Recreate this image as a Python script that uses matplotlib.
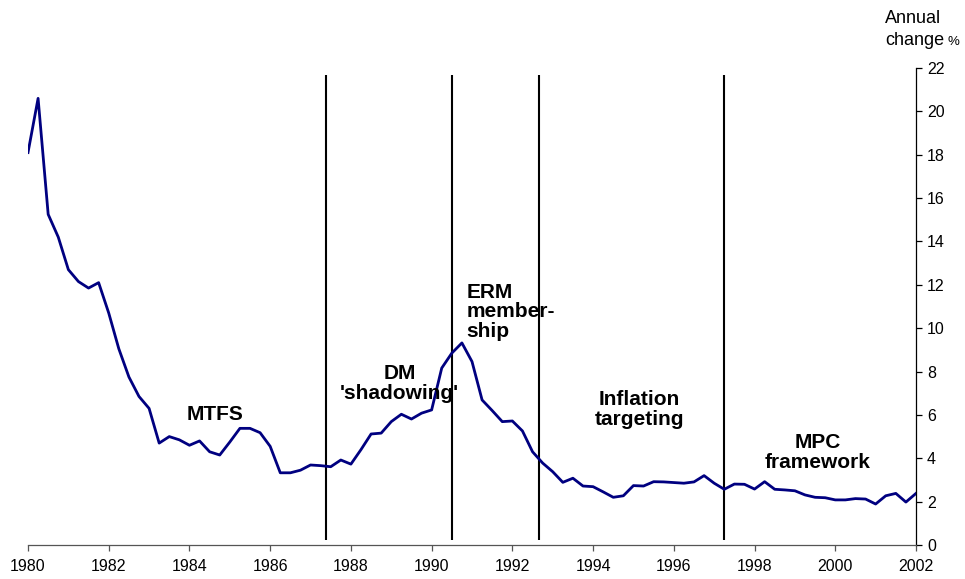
import numpy as np
import matplotlib
matplotlib.use("Agg")
import matplotlib.pyplot as plt

plt.rcParams['font.family'] = ['Liberation Sans', 'DejaVu Sans']

# quarterly annual change %, 1980 Q1 .. 2002 Q1
start_year = 1980
rate = [
    18.1, 20.6, 15.25, 14.2,
    12.7, 12.15, 11.85, 12.1,
    10.7, 9.05, 7.75, 6.85,
    6.3, 4.7, 5.0, 4.85,
    4.6, 4.8, 4.3, 4.15,
    4.75, 5.38, 5.38, 5.18,
    4.55, 3.33, 3.33, 3.45,
    3.69, 3.66, 3.61, 3.92,
    3.73, 4.4, 5.12, 5.16,
    5.69, 6.03, 5.81, 6.08,
    6.23, 8.16, 8.85, 9.32,
    8.46, 6.69, 6.2, 5.69,
    5.72, 5.26, 4.3, 3.78,
    3.38, 2.89, 3.08, 2.72,
    2.69, 2.45, 2.2, 2.27,
    2.74, 2.72, 2.92, 2.91,
    2.88, 2.85, 2.91, 3.2,
    2.85, 2.57, 2.81, 2.8,
    2.58, 2.92, 2.57, 2.54,
    2.5, 2.31, 2.2, 2.18,
    2.08, 2.08, 2.14, 2.12,
    1.89, 2.27, 2.38, 1.98,
    2.38,
]
years = start_year + np.arange(len(rate)) * 0.25

# regime changes
breaks = [1987.38, 1990.5, 1992.66, 1997.25]

# (text, x, y, ha)
labels = [
    ("MTFS", 1984.63, 6.0, "center"),
    ("DM\n'shadowing'", 1989.2, 7.45, "center"),
    ("ERM\nmember-\nship", 1990.87, 10.75, "left"),
    ("Inflation\ntargeting", 1995.14, 6.25, "center"),
    ("MPC\nframework", 1999.57, 4.25, "center"),
]

xticks = list(range(1980, 2003, 2))
yticks = list(range(0, 23, 2))

fig = plt.figure(figsize=(9.65, 5.79), dpi=100)
ax = fig.add_axes([28 / 965, 34 / 579, 888 / 965, 477 / 579])

ax.plot(years, rate, color="#000080", lw=2, zorder=3)
ax.vlines(breaks, 0.25, 21.7, color="black", lw=1.5, zorder=2)

for txt, x, y, ha in labels:
    ax.text(x, y, txt, ha=ha, va="center", fontsize=15, fontweight="bold",
            linespacing=1.05, multialignment=ha)

ax.set_xlim(1980, 2002)
ax.set_ylim(0, 22)
ax.set_xticks(xticks)
ax.set_yticks(yticks)

ax.spines['top'].set_visible(False)
ax.spines['left'].set_visible(False)
ax.spines['right'].set_linewidth(0.9)
ax.spines['bottom'].set_linewidth(0.9)
ax.spines['bottom'].set_color("#555555")
ax.yaxis.tick_right()
ax.tick_params(axis='both', direction='out', length=4, width=0.9, labelsize=11.5)
ax.tick_params(axis='x', pad=6, colors="#555555", labelcolor="black")
ax.tick_params(axis='y', pad=4)

fig.text(885 / 965, 1 - 23 / 579, "Annual", fontsize=13, va="baseline", ha="left")
fig.text(885 / 965, 1 - 45 / 579, "change", fontsize=13, va="baseline", ha="left")
fig.text(948 / 965, 1 - 45 / 579, "%", fontsize=9.5, va="baseline", ha="left")

fig.savefig("out.png", dpi=100)
